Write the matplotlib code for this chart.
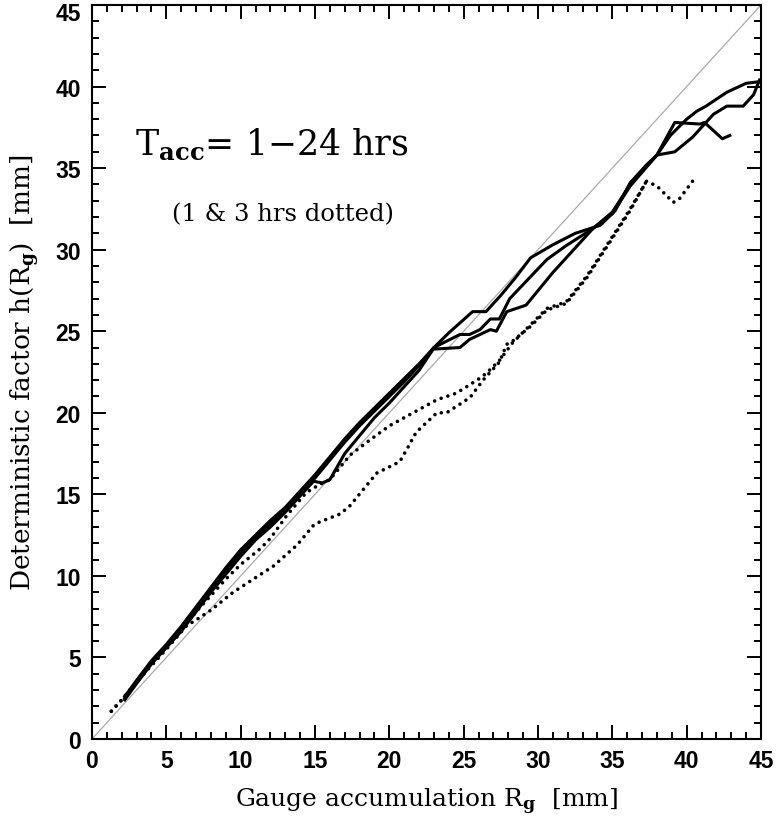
import matplotlib
matplotlib.use("Agg")
import matplotlib.pyplot as plt
from matplotlib.ticker import MultipleLocator
from matplotlib.transforms import ScaledTranslation

# ---- data ----
s1_x = [2.2, 3.0, 4.0, 5.0, 6.0, 7.0, 8.0, 9.0, 10.0, 11.0, 12.0, 13.0, 14.0, 15.0, 16.0, 17.0, 18.0, 19.0,
        20.0, 21.0, 22.0, 23.0, 24.0, 25.6, 26.5, 27.5, 28.5, 29.5, 31.0, 32.5, 34.2, 35.2, 36.2, 37.3,
        38.0, 39.2, 40.9, 41.2, 42.4, 42.9]
s1_y = [2.6, 3.6, 4.8, 5.8, 6.9, 8.1, 9.3, 10.5, 11.6, 12.5, 13.4, 14.2, 15.2, 16.2, 17.3, 18.4, 19.4, 20.3,
        21.2, 22.1, 23.0, 24.0, 24.9, 26.2, 26.2, 27.2, 28.3, 29.5, 30.3, 31.0, 31.5, 32.4, 34.1, 35.2,
        35.8, 37.8, 37.7, 37.8, 36.8, 37.0]

s2_x = [2.2, 3.0, 4.0, 5.0, 6.0, 7.0, 8.0, 9.0, 10.0, 11.0, 12.0, 13.0, 14.0, 15.0, 16.0, 17.0, 18.0, 19.0,
        20.0, 21.0, 22.0, 23.0, 24.75, 25.4, 26.1, 26.8, 27.4, 28.1, 30.6, 31.9, 33.7, 35.0, 36.2, 38.0,
        38.9, 40.0, 40.7, 41.3, 42.7, 44.0, 44.9]
s2_y = [2.5, 3.5, 4.7, 5.7, 6.8, 8.0, 9.2, 10.3, 11.4, 12.4, 13.2, 14.1, 15.0, 16.0, 17.1, 18.2, 19.2, 20.1,
        21.0, 21.9, 22.9, 24.0, 24.8, 24.8, 25.1, 25.75, 25.75, 27.0, 29.4, 30.25, 31.3, 32.3, 34.0, 35.8,
        37.0, 38.0, 38.5, 38.8, 39.65, 40.2, 40.3]

s3_x = [2.2, 3.0, 4.0, 5.0, 6.0, 7.0, 8.0, 9.0, 10.0, 11.0, 12.0, 13.0, 14.0, 14.9, 15.5, 16.0, 17.0, 18.0,
        19.0, 20.0, 21.0, 22.0, 22.95, 24.75, 25.4, 26.8, 27.2, 27.9, 29.2, 31.0, 33.7, 35.0, 36.2, 38.0,
        39.2, 40.4, 41.1, 41.8, 42.7, 43.8, 44.5, 44.9]
s3_y = [2.4, 3.4, 4.6, 5.6, 6.6, 7.8, 9.0, 10.1, 11.2, 12.2, 13.0, 13.9, 14.9, 15.8, 15.7, 15.9, 17.5, 18.6,
        19.7, 20.6, 21.6, 22.6, 23.9, 24.0, 24.5, 25.1, 25.0, 26.2, 26.6, 28.6, 31.3, 32.2, 33.9, 35.8,
        36.0, 36.9, 37.6, 38.3, 38.8, 38.8, 39.5, 40.4]

d1_x = [1.3, 2.0, 3.0, 4.0, 5.0, 6.0, 7.0, 8.0, 9.0, 10.0, 11.3, 12.0, 13.1, 14.4, 15.3, 16.0, 17.35, 18.5,
        20.0, 21.4, 23.2, 24.5, 25.9, 26.5, 27.4, 28.3, 29.5, 30.6, 31.9, 33.3, 35.0, 36.2, 37.3]
d1_y = [1.7, 2.4, 3.5, 4.6, 5.6, 6.7, 7.8, 8.8, 9.8, 10.7, 11.65, 12.3, 13.7, 15.1, 15.6, 15.9, 17.4, 18.2,
        19.2, 19.9, 20.8, 21.2, 22.0, 22.4, 23.2, 24.3, 25.4, 26.4, 26.8, 28.4, 30.8, 32.5, 34.2]

d2_x = [1.3, 2.0, 3.0, 4.0, 5.0, 6.37, 7.0, 8.0, 9.5, 10.85, 12.2, 13.8, 14.9, 15.3, 16.7, 17.35, 19.15,
        20.7, 21.2, 21.8, 23.2, 23.85, 25.2, 25.4, 26.3, 27.4, 27.9, 28.3, 29.5, 30.6, 31.9, 33.3, 35.0,
        36.2, 37.3, 38.0, 39.1, 39.5, 40.4]
d2_y = [1.7, 2.4, 3.5, 4.5, 5.5, 6.95, 7.3, 7.9, 9.0, 9.8, 10.6, 11.9, 13.1, 13.3, 13.8, 14.3, 16.3,
        17.0, 17.8, 18.8, 20.0, 20.0, 20.8, 20.9, 22.0, 23.1, 24.2, 24.4, 25.3, 26.3, 26.7, 28.3, 30.7,
        32.4, 34.2, 33.9, 32.9, 33.1, 34.2]

ref_x = [0, 45]
ref_y = [0, 45]

x_ticks = [0, 5, 10, 15, 20, 25, 30, 35, 40, 45]
y_ticks = [0, 5, 10, 15, 20, 25, 30, 35, 40, 45]

# ---- figure ----
plt.rcParams['mathtext.fontset'] = 'dejavuserif'
fig = plt.figure(figsize=(7.76, 8.2), dpi=100)
ax = fig.add_axes([92/776, 1 - 740/820, (761 - 92)/776, (740 - 6)/820])

ax.plot(ref_x, ref_y, color='#aaaaaa', lw=0.9, zorder=1)
for xs, ys in [(s1_x, s1_y), (s2_x, s2_y), (s3_x, s3_y)]:
    ax.plot(xs, ys, color='black', lw=2.2, solid_joinstyle='round', zorder=3)
for xs, ys in [(d1_x, d1_y), (d2_x, d2_y)]:
    ax.plot(xs, ys, color='black', lw=2.6, linestyle=(0, (0.01, 1.95)),
            dash_capstyle='round', zorder=2)

ax.set_xlim(0, 45)
ax.set_ylim(0, 45)
ax.set_xticks(x_ticks)
ax.set_yticks(y_ticks)
ax.xaxis.set_minor_locator(MultipleLocator(1))
ax.yaxis.set_minor_locator(MultipleLocator(1))
ax.tick_params(which='both', direction='in', top=True, right=True, width=1.4, color='black')
ax.tick_params(which='major', length=10)
ax.tick_params(which='minor', length=5)
ax.tick_params(axis='x', which='major', pad=7)
ax.tick_params(axis='y', which='major', pad=8)
for lab in ax.get_xticklabels() + ax.get_yticklabels():
    lab.set_fontfamily('Liberation Sans')
    lab.set_fontweight('bold')
    lab.set_fontsize(16.5)
for sp in ax.spines.values():
    sp.set_linewidth(1.5)

# nudge the topmost y tick label down so it stays inside the figure
top_lab = ax.yaxis.get_major_ticks()[-1].label1
top_lab.set_transform(top_lab.get_transform() + ScaledTranslation(0, -4/72, fig.dpi_scale_trans))

ax.set_xlabel(r'Gauge accumulation R$_{\mathbf{g}}$  [mm]', fontfamily='DejaVu Serif', fontsize=18, labelpad=10)
ax.set_ylabel(r'Deterministic factor h(R$_{\mathbf{g}}$)  [mm]', fontfamily='DejaVu Serif', fontsize=19, labelpad=10)

ax.text(2.9, 36.5, r'T$_{\mathbf{acc}}$= 1$-$24 hrs', fontfamily='DejaVu Serif', fontsize=25,
        va='center', ha='left')
ax.text(5.4, 32.2, '(1 & 3 hrs dotted)', fontfamily='DejaVu Serif', fontsize=17.5,
        va='center', ha='left')

fig.savefig('out.png', dpi=100)
